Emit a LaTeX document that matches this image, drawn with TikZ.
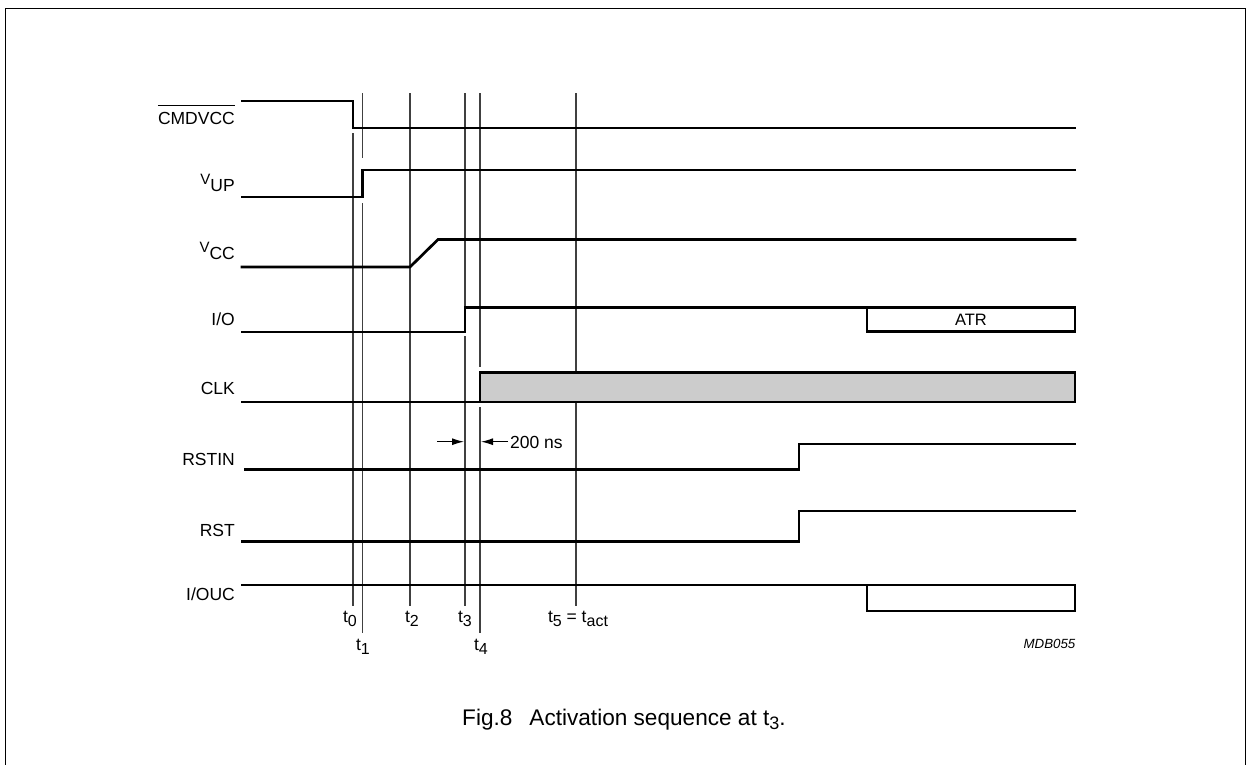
\documentclass[tikz,border=0pt]{standalone}
\usepackage{fontspec}
\setmainfont{Liberation Sans}
\usetikzlibrary{arrows.meta}
\newcommand{\lowr}[1]{\raisebox{-4pt}{\fontsize{16}{16}\selectfont #1}}
\newcommand{\smallv}{\raisebox{7pt}{\fontsize{15}{15}\selectfont V}}
\begin{document}
\begin{tikzpicture}[x=1pt,y=-1pt,
  sigline/.style={line width=2.7pt, line join=miter, line cap=rect},
  tline/.style={line width=1.1pt, draw=black!75},
  framestyle/.style={line width=1.6pt},
  lab/.style={anchor=base east, inner sep=0pt, font=\fontsize{17.5}{17.5}\selectfont},
  tlab/.style={inner sep=0pt, font=\fontsize{17.5}{17.5}\selectfont},
  dimarrow/.style={line width=1.1pt, -{Latex[length=12pt,width=7pt]}},
  clkfill/.style={fill=black!20}
]
\useasboundingbox (0,0) rectangle (1247,764);
\draw[framestyle] (5.5,780) -- (5.5,8.5) -- (1245.5,8.5) -- (1245.5,780);

% time lines
\draw[tline] (353,133) -- (353,606);
\draw[tline] (362.5,93) -- (362.5,158) (362.5,203) -- (362.5,633);
\draw[tline] (410,93) -- (410,606);
\draw[tline] (465,93) -- (465,307) (465,336) -- (465,606);
\draw[tline] (480,93) -- (480,367) (480,407) -- (480,633);
\draw[tline] (576,93) -- (576,606);

% signals
\draw[sigline] (242,101) -- (353,101) -- (353,128) -- (1075,128);
\draw[sigline] (242,197) -- (362.5,197) -- (362.5,170) -- (1075,170);
\draw[sigline] (242,267) -- (410,267) -- (438,239.5) -- (1075,239.5);
\draw[sigline] (242,332) -- (465,332) -- (465,307.5) -- (1075,307.5) -- (1075,331.5) -- (867,331.5) -- (867,307.5);
\draw[sigline] (242,402) -- (480,402);
\draw[sigline, clkfill] (480,402) -- (480,372.5) -- (1075,372.5) -- (1075,402) -- cycle;
\draw[sigline] (245,469.5) -- (799,469.5) -- (799,444) -- (1075,444);
\draw[sigline] (242,541.5) -- (799,541.5) -- (799,511) -- (1075,511);
\draw[sigline] (242,585) -- (1075,585) -- (1075,611) -- (867,611) -- (867,585);

\node[inner sep=0pt, font=\fontsize{16.5}{16.5}\selectfont] (atr) at (971,320) {ATR};

% labels
\node[lab] (lcmd) at (235,124) {CMDVCC};
\draw[line width=0.9pt] ([yshift=6.5pt]lcmd.north west) -- ([yshift=6.5pt]lcmd.north east);
\node[lab] (lvup) at (235,191) {\smallv UP};
\node[lab] (lvcc) at (235,259) {\smallv CC};
\node[lab] (lio) at (235,325) {I/O};
\node[lab] (lclk) at (235,394) {CLK};
\node[lab] (lrstin) at (235,465) {RSTIN};
\node[lab] (lrst) at (235,536) {RST};
\node[lab] (liouc) at (235,600) {I/OUC};

% 200 ns
\coordinate (a1s) at (437,441.7);
\coordinate (a1e) at (464,441.7);
\coordinate (a2s) at (508,441.7);
\coordinate (a2e) at (481,441.7);
\draw[dimarrow] (a1s) -- (a1e);
\draw[dimarrow] (a2s) -- (a2e);
\node[anchor=west, inner sep=0pt, font=\fontsize{17.5}{17.5}\selectfont] (ns) at (510,442) {200 ns};

% time labels
\node[tlab] (t0) at (350,619) {t\lowr{0}};
\node[tlab] (t1) at (363,647) {t\lowr{1}};
\node[tlab] (t2) at (412,619) {t\lowr{2}};
\node[tlab] (t3) at (465,619) {t\lowr{3}};
\node[tlab] (t4) at (481,647) {t\lowr{4}};
\node[tlab] (t5) at (578,619) {t\lowr{5} = t\lowr{act}};

\node[anchor=base east, inner sep=0pt, font=\fontsize{13.3}{13.3}\selectfont\itshape] (mdb) at (1075.5,648) {MDB055};

\node[anchor=base west, inner sep=0pt, font=\fontsize{22.6}{22.6}\selectfont] (cap) at (462,725) {Fig.8\hspace{17pt}Activation sequence at t\raisebox{-4pt}{\fontsize{18}{18}\selectfont 3}.};
\end{tikzpicture}
\end{document}
